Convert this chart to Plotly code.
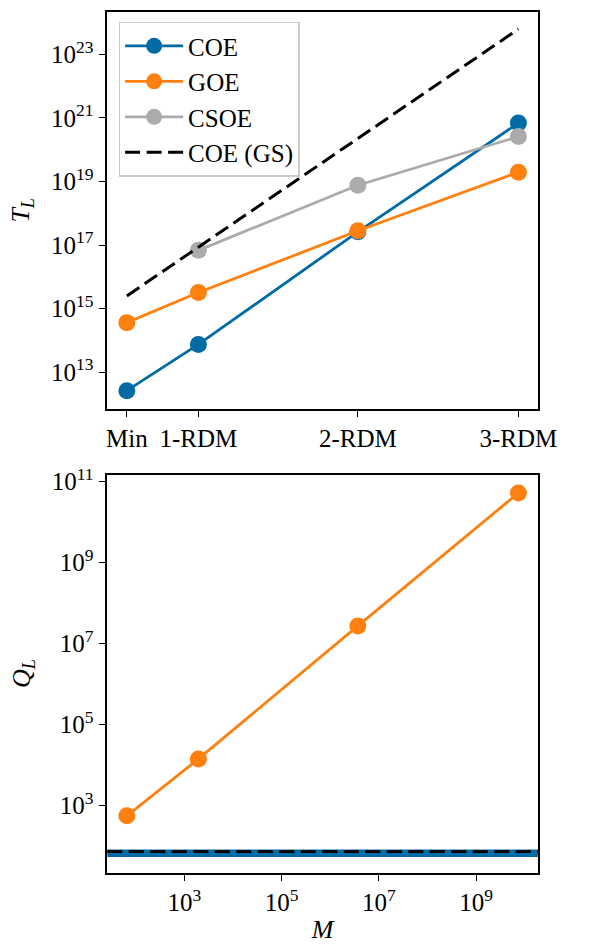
import plotly.graph_objects as go

# ---- data ----
stage_labels = ["Min", "1-RDM", "2-RDM", "3-RDM"]
M_values = [66, 1950, 3.7e6, 7.4e9]

TL_COE = [2.6e12, 7.4e13, 2.6e17, 6.9e20]
TL_GOE = [3.6e14, 3.2e15, 2.8e17, 1.95e19]
TL_CSOE = [None, 6.8e16, 7.6e18, 2.6e20]
TL_COE_GS = [2.5e15, 8.5e16, 2.3e20, 6.3e23]

QL_GOE = [550, 1.4e4, 2.7e7, 5.2e10]
QL_COE = 66
QL_COE_GS = 72

top_yticks = [1e13, 1e15, 1e17, 1e19, 1e21, 1e23]
top_yticktext = ["10<sup>13</sup>", "10<sup>15</sup>", "10<sup>17</sup>", "10<sup>19</sup>",
                 "10<sup>21</sup>", "10<sup>23</sup>"]
bot_yticks = [1e3, 1e5, 1e7, 1e9, 1e11]
bot_yticktext = ["10<sup>3</sup>", "10<sup>5</sup>", "10<sup>7</sup>", "10<sup>9</sup>", "10<sup>11</sup>"]
bot_xticks = [1e3, 1e5, 1e7, 1e9]
bot_xticktext = ["10<sup>3</sup>", "10<sup>5</sup>", "10<sup>7</sup>", "10<sup>9</sup>"]

BLUE = "#006BA4"
ORANGE = "#FF800E"
GRAY = "#ABABAB"
DASH = "15px,6.5px"

W, H = 595, 945
FONT = "Liberation Serif"

fig = go.Figure()

def series(name, y, color, xa="x", ya="y", legend=True):
    fig.add_trace(go.Scatter(
        x=M_values, y=y, name=name, mode="lines+markers",
        line=dict(color=color, width=2.8),
        marker=dict(color=color, size=17),
        xaxis=xa, yaxis=ya, showlegend=legend, connectgaps=False))

series("COE", TL_COE, BLUE)
series("GOE", TL_GOE, ORANGE)
series("CSOE", TL_CSOE, GRAY)
fig.add_trace(go.Scatter(
    x=M_values, y=TL_COE_GS, name="COE (GS)", mode="lines",
    line=dict(color="black", width=3, dash=DASH), xaxis="x", yaxis="y"))

# bottom panel
series("GOE", QL_GOE, ORANGE, "x2", "y2", legend=False)
fig.add_shape(type="line", xref="x2 domain", yref="y2", x0=0, x1=1,
              y0=QL_COE, y1=QL_COE, line=dict(color=BLUE, width=7.5))
fig.add_shape(type="line", xref="x2 domain", yref="y2", x0=0, x1=1,
              y0=QL_COE_GS, y1=QL_COE_GS, line=dict(color="black", width=3, dash=DASH))

xdom = [110 / W, 555.7 / W]
top_dom = [1 - 402.3 / H, 1 - 1 / H]
bot_dom = [1 - 871.7 / H, 1 - 469 / H]
xrange_log = [1.4175, 10.2725]

TICKFONT = dict(family=FONT, size=25, color="black")
axis_common = dict(
    type="log", showline=True, mirror=True, linecolor="black", linewidth=1.6,
    ticks="outside", ticklen=7, tickwidth=1.4, tickcolor="black",
    showgrid=False, zeroline=False, tickfont=TICKFONT,
)

fig.update_layout(
    width=W, height=H,
    margin=dict(l=0, r=0, t=0, b=0),
    paper_bgcolor="white", plot_bgcolor="white",
    font=dict(family=FONT, size=25, color="black"),
    xaxis=dict(axis_common, domain=xdom, range=xrange_log, anchor="y",
               tickmode="array", tickvals=M_values, ticktext=stage_labels),
    yaxis=dict(axis_common, domain=top_dom, range=[11.849, 24.337], anchor="x",
               tickmode="array", tickvals=top_yticks, ticktext=top_yticktext,
               title=dict(text="<i>T</i><sub><i>L</i></sub>", standoff=14,
                          font=dict(family=FONT, size=26))),
    xaxis2=dict(axis_common, domain=xdom, range=xrange_log, anchor="y2",
                tickmode="array", tickvals=bot_xticks, ticktext=bot_xticktext,
                title=dict(text="<i>M</i>", standoff=4, font=dict(family=FONT, size=26))),
    yaxis2=dict(axis_common, domain=bot_dom, range=[1.34, 11.17], anchor="x2",
                tickmode="array", tickvals=bot_yticks, ticktext=bot_yticktext,
                title=dict(text="<i>Q</i><sub><i>L</i></sub>", standoff=14,
                           font=dict(family=FONT, size=26))),
    legend=dict(x=121.7 / W, y=1 - 10.7 / H, xanchor="left", yanchor="top",
                bgcolor="rgba(255,255,255,0.8)", bordercolor="#cccccc", borderwidth=1.5,
                font=dict(family=FONT, size=25), tracegroupgap=0, itemwidth=58),
)

fig.write_html("out.html",
               config={"displayModeBar": False},
               post_script="document.body.style.margin='0';document.body.style.overflow='hidden';")
